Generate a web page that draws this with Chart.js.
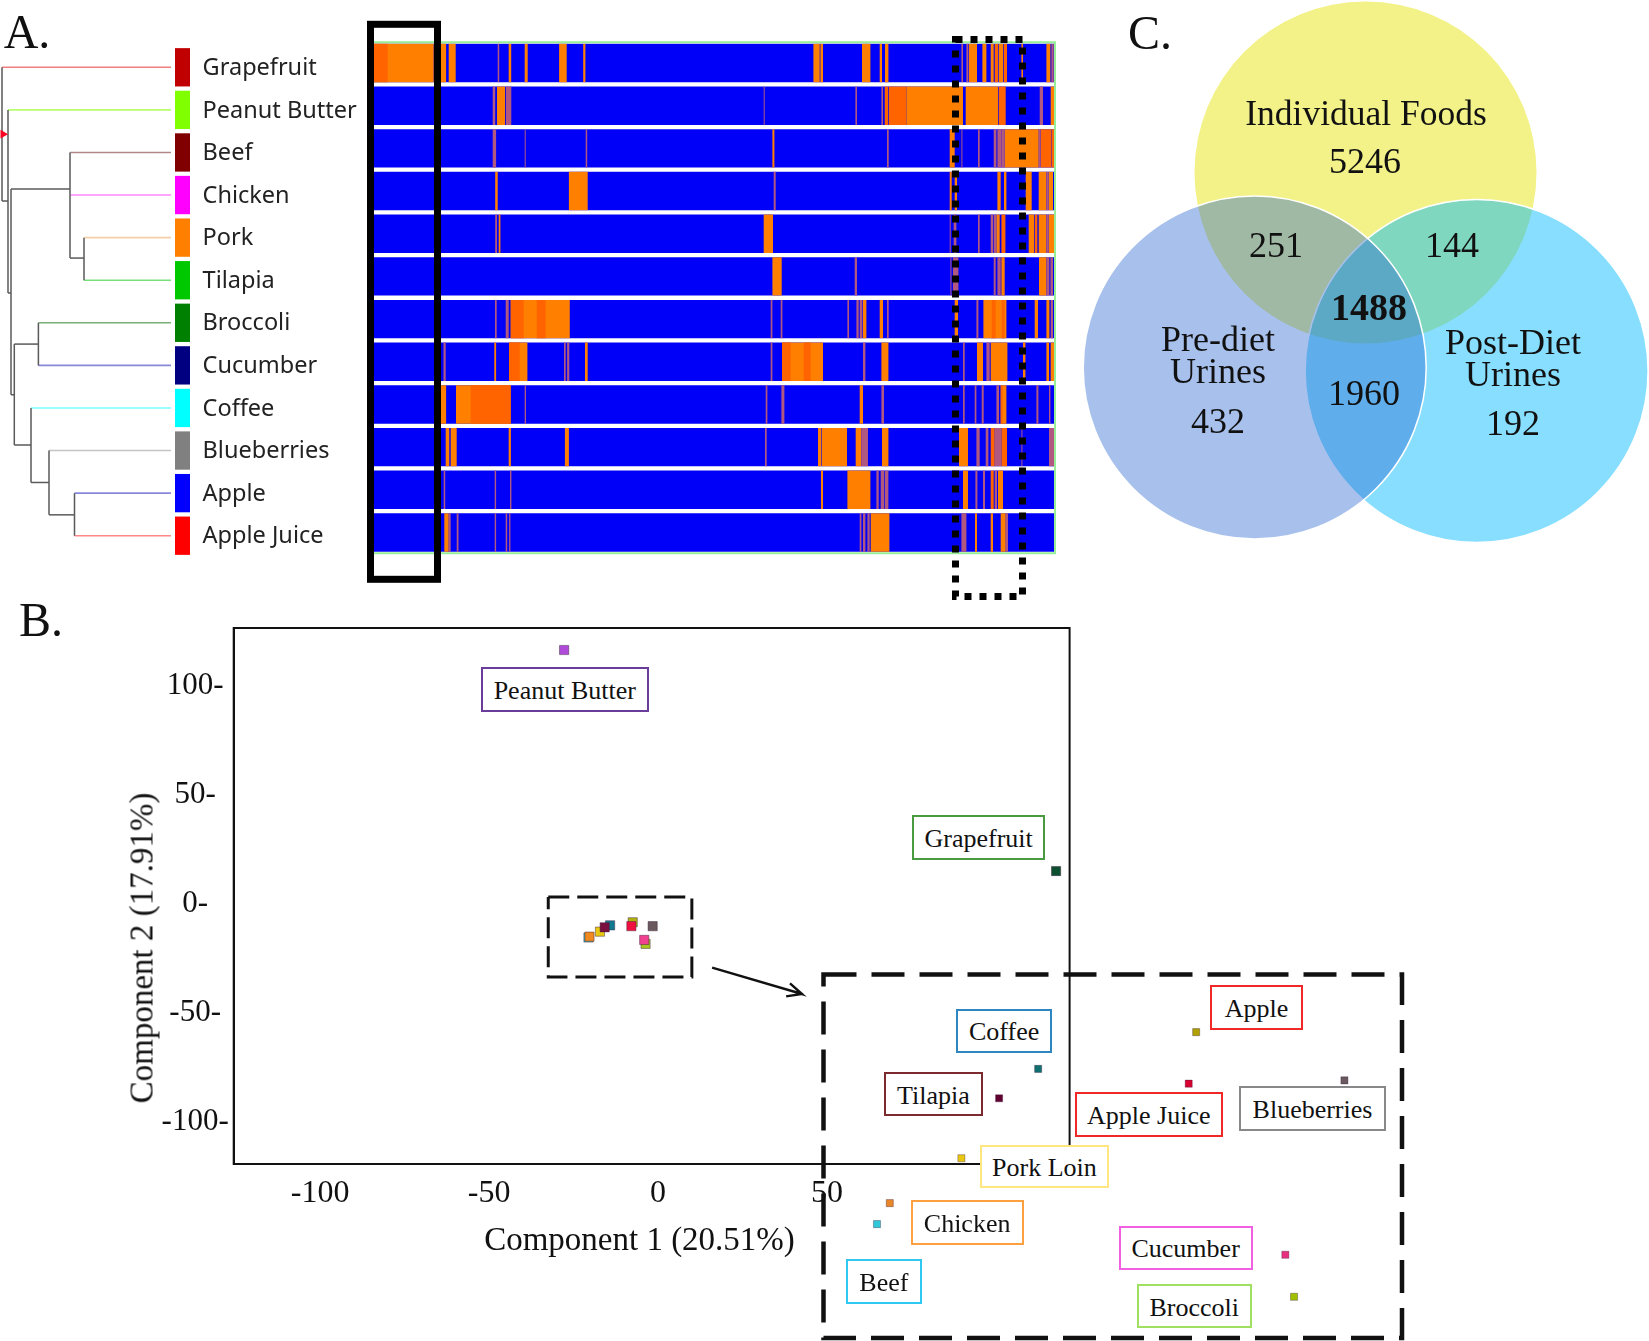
<!DOCTYPE html>
<html><head><meta charset="utf-8">
<script src="https://cdn.jsdelivr.net/npm/chart.js@4"></script>
<style>
html,body{margin:0;padding:0;background:#fff}
#page{position:relative;width:1649px;height:1341px;overflow:hidden;background:#fff}
canvas{position:absolute}
#heat{filter:blur(.6px)}
.t{position:absolute;transform:translate(-50%,-50%);white-space:nowrap;font-family:"Liberation Serif",serif;color:#111;line-height:1}
.box{position:absolute;box-sizing:border-box;background:#fff;border:2px solid;padding-top:3px;display:flex;align-items:center;justify-content:center;font-family:"Liberation Serif",serif;font-size:26px;color:#111;white-space:nowrap}
</style></head><body><div id="page">
<canvas id="dendro" width="365" height="600" style="left:0;top:0"></canvas>
<canvas id="heat" width="720" height="610" style="left:360px;top:0"></canvas>
<canvas id="venn" width="579" height="560" style="left:1070px;top:0"></canvas>
<canvas id="pca" width="1100" height="741" style="left:0;top:600px"></canvas>
<canvas id="inset" width="640" height="400" style="left:800px;top:950px"></canvas>
</div>
<script>
// ---------- Panel A data ----------
const foods = ["Grapefruit","Peanut Butter","Beef","Chicken","Pork","Tilapia","Broccoli","Cucumber","Coffee","Blueberries","Apple","Apple Juice"];
const swatchColors = ["#c00000","#80ff00","#800000","#ff00ff","#ff8000","#00c800","#008000","#000080","#00ffff","#808080","#0000ff","#ff0000"];
const leafColors = ["#f08080","#b8ff70","#b08888","#ff88ff","#f4cfa8","#78e078","#78b078","#8888d8","#78ffff","#c4c4c4","#8888d8","#ff8888"];
const leafStart = [2,8,70,70,84,84,38.4,38.4,31,49,74.5,74.5];
const featureCount = 681.3;
const orangeBands = [
 [[0,60],[67,72.4],[75,82],[135,137.5],[151,154],[185.4,193],[209.5,211.7],[439.7,446],[446.7,449.3],[488.3,496.7],[506,508.3],[511.3,514.7],[595.3,603.3],[608.7,612.7],[617,620],[625,629.3],[647.7,649.3],[672.7,676.7]],
 [[123.3,131.4],[532.7,589.3],[592,624.3],[677,680.3]],
 [[398.7,400.7],[576,581],[631,665]],
 [[121.5,124],[195.2,214],[576,578],[581,583.3],[623.7,627],[630.3,632.7],[652,658],[665,672.7],[675,679.3]],
 [[125,126.7],[390,399.3],[622.7,626],[655,660.3],[665,672.7],[675,681]],
 [[398.7,408],[627.7,631],[665.3,672.7]],
 [[137,196.1],[489.3,492.7],[506,509.3],[581,584.3],[609.7,632.7],[661,664.3],[672.7,675.7]],
 [[120.6,122.4],[135.4,153.7],[211.3,214],[408.3,449.3],[507.7,514.7],[603.3,609.3],[617,633.7],[649.3,651.7],[672.7,675.3],[677,681]],
 [[67,72.4],[82.3,137],[486,489.3],[627,632.7]],
 [[72,75.6],[77,83],[135,137.2],[191.2,195.2],[444.3,447.7],[448.3,473.3],[482,487.7],[508.3,514.7],[585.3,594.3]],
 [[447.3,449.3],[473.7,496.7],[589.3,594.3],[624.3,629.3]],
 [[70.6,75],[497,515.7],[601.3,603.3],[617,619.3],[627,632]]
];
const redBands = [
 [[0,14],[621,624.3],[630,633.3]],
 [[511,514.3],[515,532.7],[625,632]],
 [[667,677.7],[678,681]],
 [],
 [[627.7,631.7],[661,663.7]],
 [],
 [[137,150],[163,172],[618,622],[628,631]],
 [[135.4,146],[408.3,417],[430,437]],
 [[97,137],[627,629]],
 [[617,621],[627.7,633.3]],
 [[617,620]],
 []
];
const purpleBands = [
 [[124,125.5],[587.7,589.3],[592.7,594.7],[677.7,680]],
 [[119,121.5],[132.3,137.6],[390,391],[481.7,483.3],[507.7,509.3],[666,669.3]],
 [[119,122.4],[151,152],[212,213.5],[513.3,515],[587.7,588.7],[604.3,606],[620,622.7],[623.7,627.7],[627.7,631],[665,667]],
 [[400,402],[672.7,675]],
 [[121.5,123.3],[576,577],[580,582.7],[604.3,606],[617,619.3],[620,622.7],[672.7,675]],
 [[481,483.3],[576.7,577.7],[579.3,584.7],[620,622],[623.7,627],[672.7,675.7],[676.7,679.3]],
 [[121.3,123],[132,135],[397,398.7],[407,408.7],[473.7,475.3],[482.7,485],[486,488.7],[513.3,515],[602.7,604.7],[677,679.3]],
 [[69.8,72],[190.3,192],[193.4,195.6],[397,398.7],[489.3,491.7],[589.3,591],[612.7,616]],
 [[151,152.3],[392,393.7],[407.7,410.7],[507.7,510.3],[589.3,591],[601,602.7],[608,610],[622.7,625.3],[662.7,664.7],[675.3,676.7]],
 [[391.3,393],[487.7,494.3],[602.7,606],[612,614.7],[621,627.7],[647.7,648.7],[675.3,680.7]],
 [[70,71.5],[121,122.4],[136.3,137.7],[502.7,505],[507,510.3],[511,514.7],[601.7,603.7],[609.3,611.3],[621,623.3]],
 [[75,77],[83,84.8],[121,122.4],[132,133.5],[135.4,136.7],[486,487.7],[489.3,491.7],[493.7,496],[587.7,592.7],[632,634.3]]
];
// dendrogram inner branches: [distance, row, distance, row]
const dendroBranches = [
 [2,0,2,3.14],[2,3.14,8,3.14],[8,1,8,5.3],[8,5.3,11,5.3],[11,2.86,11,7.69],[11,2.86,70,2.86],[11,7.69,14.3,7.69],
 [70,2,70,4.48],[70,4.48,84,4.48],[84,4,84,5],
 [14.3,6.5,14.3,8.87],[14.3,6.5,38.4,6.5],[38.4,6,38.4,7],[14.3,8.87,31,8.87],
 [31,8,31,9.75],[31,9.75,49,9.75],[49,9,49,10.51],[49,10.51,74.5,10.51],[74.5,10,74.5,11]
];
// ---------- Panel B data ----------
const pcaNames = ["Beef","Chicken","Pork Loin","Coffee","Tilapia","Apple","Apple Juice","Broccoli","Cucumber","Blueberries","Peanut Butter","Grapefruit"];
const pcaX = [-20.6,-20.3,-17.2,-14.2,-15.8,-7.5,-7.9,-3.7,-4.1,-1.6,-27.8,117.8];
const pcaY = [-15.4,-15,-12.7,-9.8,-10.7,-8.4,-10.2,-18.3,-16.5,-10.2,116.5,15.1];
const pcaColors = ["#30c8d8","#f08a20","#e8c810","#107a90","#7a1040","#b0b010","#f01040","#a8c820","#f04090","#6a5a60","#b04ad8","#0d5030"];
const zoomNames = ["Beef","Chicken","Pork Loin","Coffee","Tilapia","Apple","Apple Juice","Broccoli","Cucumber","Blueberries"];
const zoomX = [-28.57,-27.63,-22.37,-16.73,-19.6,-5.12,-5.67,2.07,1.43,5.77];
const zoomY = [-22,-19.88,-15.35,-6.33,-9.3,-2.62,-7.82,-29.34,-25.1,-7.49];
const zoomColors = ["#30c8d8","#e8862a","#e8c810","#107070","#600030","#b0a000","#d80030","#a0c000","#e83080","#6a5a60"];
const xTickValues = [-100,-50,0,50];
const zoomWindowX = [-32.5,10,10,-32.5,-32.5];
const zoomWindowY = [3.2,3.2,-33.5,-33.5,3.2];
const arrowX = [16,42.6,39.05,42.6,37.9];
const arrowY = [-29.2,-41.3,-36.4,-41.3,-42.4];
// ---------- Panel C data ----------
const vennSets = ["Pre-diet Urines","Post-Diet Urines","Individual Foods"];
const vennCx = [184.7,406.6,295.5];
const vennCy = [367.5,371,172.5];
const vennR = [171.5,171.5,171];
const vennColors = ["rgba(37,100,207,0.4)","rgba(0,185,253,0.47)","#f2f288"];

Chart.defaults.animation = false;
Chart.defaults.responsive = false;
Chart.defaults.devicePixelRatio = 1;
Chart.defaults.layout.autoPadding = false;
Chart.defaults.plugins.legend.display = false;
Chart.defaults.plugins.tooltip.enabled = false;
Chart.defaults.events = [];

const rowsIdx = foods.map((_,i)=>i);
function bandSets(bands,color){
  const n = Math.max(...bands.map(b=>b.length));
  const out=[];
  for(let k=0;k<n;k++) out.push({data:rowsIdx.map(r=>bands[r][k]||null),backgroundColor:color,borderWidth:0,barPercentage:.9,categoryPercentage:1,inflateAmount:0});
  return out;
}
// Heat map
new Chart(document.getElementById('heat'),{
  type:'bar',
  data:{labels:foods,datasets:[
    ...bandSets(purpleBands,'#b05880'),
    ...bandSets(redBands,'#ff6400'),
    ...bandSets(orangeBands,'#ff8000'),
    {data:rowsIdx.map(()=>[0,featureCount]),backgroundColor:'#0000f8',borderWidth:0,barPercentage:.9,categoryPercentage:1,inflateAmount:0}
  ]},
  options:{indexAxis:'y',layout:{padding:{left:13.7,right:25,top:41.7,bottom:56.2}},
    scales:{x:{type:'linear',min:0,max:featureCount,display:false},y:{type:'category',stacked:true,display:false}}},
  plugins:[{id:'frames',afterDraw(c){
    const g=c.ctx,a=c.chartArea;g.save();
    g.strokeStyle='#98ee98';g.lineWidth=2;g.beginPath();
    g.moveTo(a.left,a.top+.5);g.lineTo(a.right,a.top+.5);g.lineTo(a.right,a.bottom-.5);g.lineTo(a.left,a.bottom-.5);g.stroke();
    g.strokeStyle='#000';g.lineWidth=7;g.setLineDash([]);g.strokeRect(10.5,24.3,67,555);
    g.setLineDash([7,8]);g.strokeRect(595.5,39.5,67,557);
    g.restore();}}]
});
// Dendrogram + colour keys + names
new Chart(document.getElementById('dendro'),{
  type:'bar',
  data:{labels:foods,datasets:[
    {indexAxis:'y',data:rowsIdx.map(()=>[175,190]),backgroundColor:swatchColors,borderWidth:0,barPercentage:.9,categoryPercentage:1,xAxisID:'x',yAxisID:'y'},
    {type:'scatter',data:[{x:3,y:1.57}],pointStyle:'triangle',rotation:90,pointRadius:5,backgroundColor:'#ff0020',borderWidth:0,xAxisID:'x',yAxisID:'yd'},
    ...dendroBranches.map(b=>({type:'scatter',showLine:true,data:[{x:b[0],y:b[1]},{x:b[2],y:b[3]}],pointRadius:0,borderColor:'#5a5a5a',borderWidth:1.5,xAxisID:'x',yAxisID:'yd'})),
    ...rowsIdx.map(r=>({type:'scatter',showLine:true,data:[{x:leafStart[r],y:r},{x:171,y:r}],pointRadius:0,borderColor:leafColors[r],borderWidth:1.6,xAxisID:'x',yAxisID:'yd'}))
  ]},
  options:{layout:{padding:{top:46,bottom:43}},clip:false,
    scales:{
      x:{type:'linear',offset:false,min:0,max:190,display:false},
      yd:{type:'linear',offset:false,min:-.5,max:11.5,reverse:true,display:false},
      y:{type:'category',position:'right',offset:true,labels:foods,grid:{display:false},border:{display:false},
         ticks:{padding:4.6,labelOffset:1,color:'#222',autoSkip:false,font:{family:'"Noto Sans"',size:23.5}},
         afterFit(s){s.width=175;}}
    }}
});
// Venn
new Chart(document.getElementById('venn'),{
  type:'bubble',
  data:{datasets:vennSets.map((n,i)=>({label:n,data:[{x:vennCx[i],y:vennCy[i],r:vennR[i]}],backgroundColor:vennColors[i],borderColor:i==2?'rgba(0,0,0,0)':'#fff',borderWidth:1.5,clip:false}))},
  options:{scales:{x:{type:'linear',min:0,max:579,display:false},y:{type:'linear',min:0,max:560,reverse:true,display:false}}}
});
// PCA
new Chart(document.getElementById('pca'),{
  type:'scatter',
  data:{datasets:[
    {label:'Samples',data:pcaX.map((x,i)=>({x,y:pcaY[i]})),pointStyle:'rect',pointRadius:6.5,backgroundColor:pcaColors,pointBorderColor:'rgba(60,30,60,.45)',pointBorderWidth:1},
    {label:'Window',showLine:true,data:zoomWindowX.map((x,i)=>({x,y:zoomWindowY[i]})),pointRadius:0,borderColor:'#111',borderWidth:3,borderDash:[21,8]},
    {label:'Arrow',showLine:true,data:arrowX.map((x,i)=>({x,y:arrowY[i]})),pointRadius:0,borderColor:'#111',borderWidth:2.4}
  ]},
  options:{layout:{padding:{top:28,right:30.4,bottom:117}},
    scales:{
      x:{type:'linear',min:-125.6,max:121.8,grid:{display:false},border:{color:'#111',width:2},
         afterBuildTicks(s){s.ticks=xTickValues.map(value=>({value}));},
         ticks:{maxRotation:0,autoSkip:false,padding:2,color:'#111',font:{family:'"Liberation Serif"',size:32},callback:v=>String(v)},
         afterFit(s){s.height=60;}},
      y:{type:'linear',min:-119.3,max:126.6,grid:{display:false},border:{color:'#111',width:2},
         ticks:{stepSize:50,includeBounds:false,padding:-3,crossAlign:'center',color:'#111',font:{family:'"Liberation Serif"',size:31},callback:v=>v+'-'},
         afterFit(s){s.width=233.7;}}
    }},
  plugins:[{id:'frame',afterDatasetsDraw(c){const g=c.ctx,a=c.chartArea;g.save();g.strokeStyle='#111';g.lineWidth=2;g.strokeRect(a.left,a.top,a.right-a.left,a.bottom-a.top);g.restore();}}]
});
// Enlarged cluster
new Chart(document.getElementById('inset'),{
  type:'scatter',
  data:{datasets:[{label:'Cluster',data:zoomX.map((x,i)=>({x,y:zoomY[i]})),pointStyle:'rect',pointRadius:5,backgroundColor:zoomColors,pointBorderColor:'rgba(60,30,60,.35)',pointBorderWidth:1}]},
  options:{layout:{padding:{left:23.5,top:24.5,right:38,bottom:12}},
    scales:{x:{type:'linear',min:-32.5,max:10,display:false},y:{type:'linear',min:-33.5,max:3.2,display:false}}},
  plugins:[{id:'dash',afterDraw(c){const g=c.ctx,a=c.chartArea;g.save();g.strokeStyle='#111';g.lineWidth=4.5;g.setLineDash([33,15]);g.strokeRect(a.left,a.top,a.right-a.left,a.bottom-a.top);g.restore();}}]
});

// ---------- Text and label boxes ----------
const page=document.getElementById('page');
function text(s,x,y,size,opts={}){const d=document.createElement('div');d.className='t';d.textContent=s;d.style.left=x+'px';d.style.top=y+'px';d.style.fontSize=size+'px';
  if(opts.bold)d.style.fontWeight='bold';if(opts.rot)d.style.transform='translate(-50%,-50%) rotate(-90deg)';page.appendChild(d);}
function box(s,l,t,r,b,col){const d=document.createElement('div');d.className='box';d.textContent=s;d.style.cssText+=`left:${l}px;top:${t}px;width:${r-l}px;height:${b-t}px;border-color:${col}`;page.appendChild(d);}
[["A.",27,32],["B.",41,620],["C.",1150,33]].forEach(p=>text(p[0],p[1],p[2],48));
text("Component 1 (20.51%)",639.5,1239,33);
text("Component 2 (17.91%)",142,948,33,{rot:true});
text("Individual Foods",1366,114,35.5);
[["5246",1365,161],["251",1276,245],["144",1452,245],["Pre-diet",1218,339],["Urines",1218,371],["432",1218,421],["Post-Diet",1513,342],["Urines",1513,374],["192",1513,423],["1960",1364,393]].forEach(p=>text(p[0],p[1],p[2],36));
text("1488",1369,307,38,{bold:true});
[["Peanut Butter",480.6,666.8,649,712,"#6a3d9a"],["Grapefruit",911.8,815,1045.4,860.3,"#4a9a40"],
 ["Coffee",955.9,1009,1052.3,1052.7,"#2e86c1"],["Tilapia",884.3,1072.3,982.6,1116.3,"#7b2a30"],["Apple",1210,985.3,1303,1029.7,"#f02828"],
 ["Apple Juice",1074.5,1092.3,1223,1137.3,"#f02828"],["Blueberries",1239.4,1086.3,1385.6,1131,"#888888"],["Pork Loin",979.6,1144.7,1109.3,1188.3,"#ffe680"],
 ["Chicken",910.7,1200.3,1023.6,1245,"#ffa040"],["Beef",846,1259.3,921.8,1304,"#30c8f0"],["Cucumber",1118.5,1225.7,1252.8,1270.3,"#f060e0"],["Broccoli",1136.9,1284.3,1251.7,1328.3,"#a0e060"]
].forEach(b=>box(...b));
</script></body></html>
